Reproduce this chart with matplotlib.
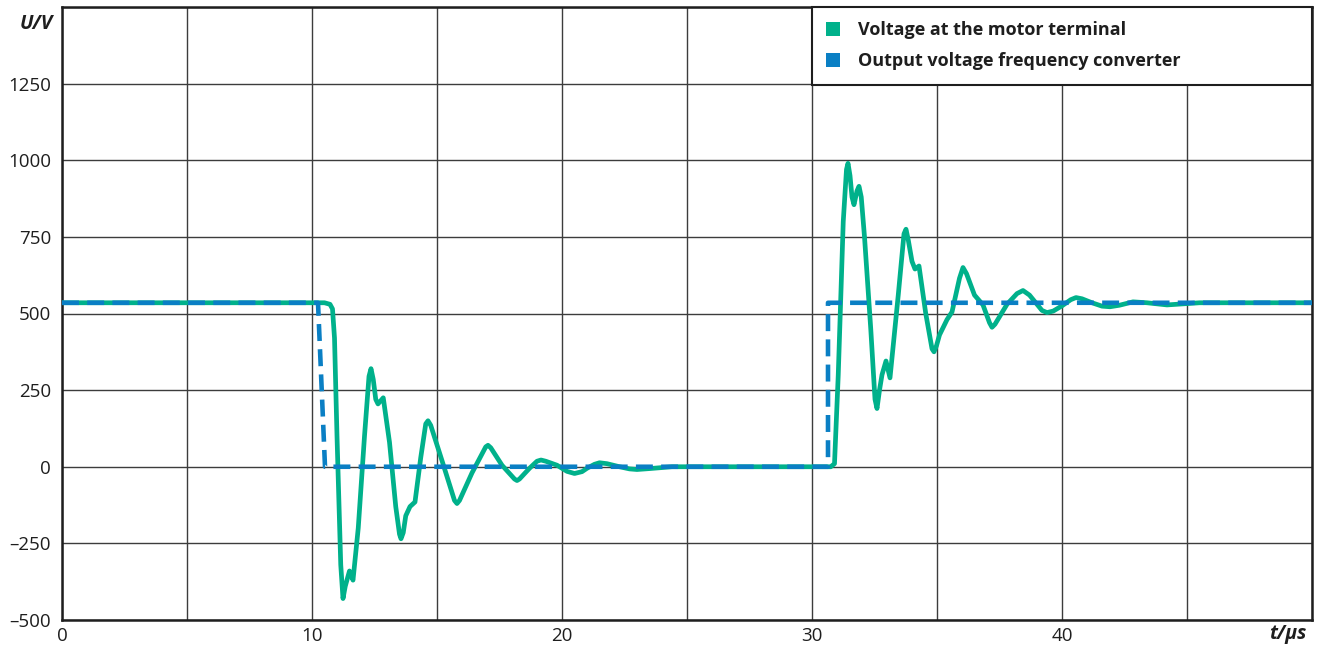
import matplotlib
matplotlib.use("Agg")
import matplotlib.pyplot as plt
from matplotlib.patches import Patch
from matplotlib.ticker import FuncFormatter

plt.rcParams["font.family"] = ["Open Sans", "DejaVu Sans"]

GREEN = "#00b18b"
BLUE = "#0a7fc4"
GRID = "#3c3c3c"

# converter output (ideal step with a short ramp)
t_conv = [0, 10.24, 10.52, 30.64, 30.64, 50]
u_conv = [535, 535, 0, 0, 535, 535]

# voltage at the motor terminal
t_motor = [0, 10.5, 10.72, 10.82, 10.9, 11.0, 11.15, 11.24, 11.33, 11.5, 11.64, 11.85, 12.1,
           12.28, 12.36, 12.45, 12.55, 12.64, 12.85, 13.1, 13.35, 13.5, 13.56, 13.65, 13.75, 13.92, 14.12,
           14.35, 14.55, 14.64, 14.75, 15.2, 15.7, 15.8, 15.9, 16.4, 16.95, 17.04, 17.15, 17.6, 18.1, 18.2, 18.3, 18.7,
           19.0, 19.16, 19.35, 19.8, 20.2, 20.5, 20.8, 21.0, 21.3, 21.5, 21.8, 22.3, 22.7, 23.0, 23.5, 24.4,
           30.75, 30.9, 31.05, 31.25, 31.38, 31.44, 31.52, 31.6, 31.68, 31.8, 31.88, 31.97, 32.1, 32.35,
           32.52, 32.6, 32.7, 32.8, 32.96, 33.12, 33.45, 33.68, 33.76, 33.85, 34.0, 34.12, 34.28, 34.55,
           34.8, 34.88, 34.98, 35.1, 35.4, 35.6, 35.9, 36.04, 36.18, 36.5, 36.84, 37.1, 37.2, 37.32, 37.8,
           38.2, 38.44, 38.7, 38.9, 39.2, 39.4, 39.65, 40.0, 40.35, 40.56, 40.8, 41.2, 41.6, 41.92,
           42.3, 42.84, 43.4, 44.2, 45.5, 50]
u_motor = [535, 535, 530, 515, 420, 100, -320, -430, -390, -340, -370, -200, 100,
           295, 320, 285, 220, 205, 225, 80, -130, -220, -235, -215, -160, -130, -115,
           30, 140, 150, 135, 20, -110, -120, -110, -20, 65, 70, 62, 5, -40, -45, -40, -5,
           18, 22, 18, 5, -15, -22, -16, -5, 8, 13, 10, 0, -7, -9, -6, 0,
           0, 10, 300, 800, 970, 990, 950, 880, 855, 900, 915, 880, 750, 450,
           220, 190, 250, 300, 345, 290, 560, 760, 775, 740, 670, 645, 655, 500,
           385, 375, 395, 430, 480, 505, 615, 650, 630, 560, 528, 470, 455, 465, 530,
           565, 575, 560, 540, 510, 503, 508, 525, 545, 552, 548, 535, 524, 522,
           527, 538, 535, 528, 535, 535]

x_ticks = [0, 10, 20, 30, 40]
y_ticks = [-500, -250, 0, 250, 500, 750, 1000, 1250]

fig = plt.figure(figsize=(13.2, 6.46), dpi=100)
ax = fig.add_axes([62 / 1320, 1 - 620 / 646, 1250 / 1320, 613 / 646])

ax.plot(t_motor, u_motor, color=GREEN, linewidth=3.4, solid_joinstyle="round",
        solid_capstyle="round", zorder=3, label="Voltage at the motor terminal")
ax.plot(t_conv, u_conv, color=BLUE, linewidth=3.3, dashes=(3.7, 1.8),
        zorder=4, label="Output voltage frequency converter")

ax.set_xlim(0, 50)
ax.set_ylim(-500, 1500)
ax.set_xticks(range(0, 51, 5))
ax.set_yticks(range(-500, 1501, 250))
ax.set_xticklabels([str(v) if v in x_ticks else "" for v in range(0, 51, 5)])
ax.yaxis.set_major_formatter(FuncFormatter(
    lambda v, p: (f"{int(v)}".replace("-", "\u2013") if v in y_ticks else "")))
ax.tick_params(length=0, labelsize=13.5, colors="#1e1e1e")
ax.tick_params(axis="y", pad=8)
ax.tick_params(axis="x", pad=5)
ax.grid(True, color=GRID, linewidth=1.0)
ax.set_axisbelow(True)
for s in ax.spines.values():
    s.set_linewidth(1.8)
    s.set_color("#1e1e1e")

fig.text(53 / 1320, 1 - 24 / 646, "U/V", ha="right", va="center", fontsize=14,
         fontweight="bold", fontstyle="italic", color="#1e1e1e")
fig.text(1306 / 1320, 1 - 634 / 646, "t/\u00b5s", ha="right", va="center", fontsize=14,
         fontweight="bold", fontstyle="italic", color="#1e1e1e")

handles = [Patch(facecolor=GREEN, label="Voltage at the motor terminal"),
           Patch(facecolor=BLUE, label="Output voltage frequency converter")]
leg = ax.legend(handles=handles, loc="upper left", bbox_to_anchor=(0.6, 0.0, 0.4, 1.0),
                mode="expand", borderaxespad=0, fancybox=False, frameon=True,
                prop={"weight": "bold", "size": 13}, handlelength=0.75,
                handleheight=0.8, handletextpad=1.0, labelspacing=0.7, borderpad=0.8)
leg.get_frame().set_edgecolor("#1e1e1e")
leg.get_frame().set_linewidth(1.5)
leg.get_frame().set_alpha(1)
for txt in leg.get_texts():
    txt.set_color("#1e1e1e")

fig.savefig("out.png", dpi=100)
